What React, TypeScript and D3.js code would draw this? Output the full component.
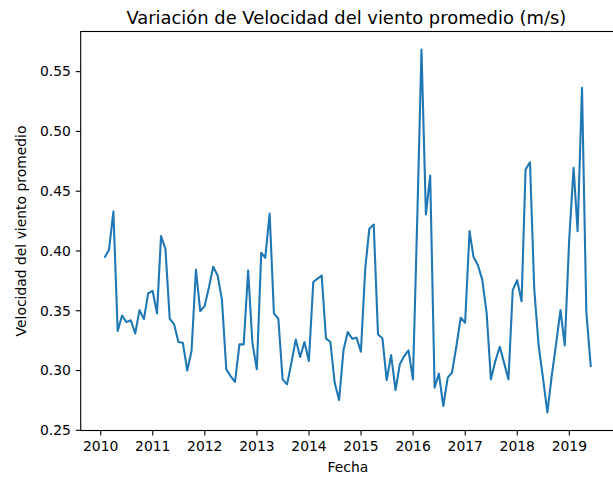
import React from "react";
import * as d3 from "d3";

// Monthly mean wind speed (m/s), month-end dates from Jan 2010 to May 2019
const startYear = 2010;
const startMonth = 0;
const windValues: number[] = [
  0.395, 0.401, 0.433, 0.333, 0.346, 0.3405, 0.342, 0.331, 0.3505, 0.343, 0.3645, 0.3667,
  0.3478, 0.4124, 0.4018, 0.3433, 0.3386, 0.3238, 0.3233, 0.3, 0.3163, 0.3845, 0.3497, 0.3539,
  0.37, 0.3868, 0.3795, 0.3595, 0.301, 0.2954, 0.2904, 0.3219, 0.3219, 0.3837, 0.3233, 0.301,
  0.3985, 0.3943, 0.4313, 0.3478, 0.3433, 0.2926, 0.2884, 0.3066, 0.326, 0.3113, 0.3238, 0.3079,
  0.3739, 0.3767, 0.3795, 0.3269, 0.3238, 0.2899, 0.2753, 0.3171, 0.3322, 0.3266, 0.3275, 0.3157,
  0.386, 0.4185, 0.4221, 0.3302, 0.327, 0.292, 0.3129, 0.2837, 0.3052, 0.3121, 0.3169, 0.2926,
  0.43, 0.5684, 0.4305, 0.4631, 0.2857, 0.2974, 0.2703, 0.294, 0.2982, 0.3205, 0.3442, 0.34,
  0.4166, 0.395, 0.388, 0.376, 0.3483, 0.2926, 0.3079, 0.3199, 0.3066, 0.2926, 0.3672, 0.3756,
  0.358, 0.4681, 0.4742, 0.368, 0.3205, 0.294, 0.265, 0.296, 0.322, 0.3505, 0.321, 0.4096,
  0.4695, 0.4166, 0.5364, 0.3497, 0.3037,
];
const yTickValues: number[] = [0.25, 0.3, 0.35, 0.4, 0.45, 0.5, 0.55];
const xTickYears: number[] = [2010, 2011, 2012, 2013, 2014, 2015, 2016, 2017, 2018, 2019];

const titleText = "Variación de Velocidad del viento promedio (m/s)";
const xLabelText = "Fecha";
const yLabelText = "Velocidad del viento promedio";

const W = 613;
const H = 477;
const plot = { left: 80.7, right: 615, top: 31.5, bottom: 430.5 };
const FONT = "DejaVu Sans, sans-serif";
const LINE_COLOR = "#1f77b4";

type Pt = { date: Date; value: number };

export default function App() {
  const data: Pt[] = windValues.map((v, i) => ({
    // last day of each month
    date: new Date(startYear, startMonth + i + 1, 0),
    value: v,
  }));

  const tExt = d3.extent(data, (d) => d.date.getTime()) as [number, number];
  const tPad = (tExt[1] - tExt[0]) * 0.05;
  const x = d3
    .scaleTime()
    .domain([new Date(tExt[0] - tPad), new Date(tExt[1] + tPad)])
    .range([plot.left, plot.right]);

  const vExt = d3.extent(data, (d) => d.value) as [number, number];
  const vPad = (vExt[1] - vExt[0]) * 0.05;
  const y = d3
    .scaleLinear()
    .domain([vExt[0] - vPad, vExt[1] + vPad])
    .range([plot.bottom, plot.top]);

  const line = d3
    .line<Pt>()
    .x((d) => x(d.date))
    .y((d) => y(d.value));

  const fmt = d3.format(".2f");
  const cx = (plot.left + plot.right) / 2;
  const cy = (plot.top + plot.bottom) / 2;

  return (
    <svg
      width={W}
      height={H}
      style={{ position: "absolute", left: 0, top: 0, background: "#fff" }}
      fontFamily={FONT}
    >
      <rect x={0} y={0} width={W} height={H} fill="#fff" />
      <text x={cx - 1.5} y={23.5} textAnchor="middle" fontSize={17.9} fill="#000">
        {titleText}
      </text>

      <path d={line(data) ?? ""} fill="none" stroke={LINE_COLOR} strokeWidth={2.08} strokeLinejoin="round" strokeLinecap="square" />

      {/* spines */}
      <rect
        x={plot.left}
        y={plot.top}
        width={plot.right - plot.left}
        height={plot.bottom - plot.top}
        fill="none"
        stroke="#000"
        strokeWidth={1.1}
      />

      {/* x ticks */}
      {xTickYears.map((yr) => {
        const px = x(new Date(yr, 0, 1));
        return (
          <g key={yr}>
            <line x1={px} x2={px} y1={plot.bottom} y2={plot.bottom + 4.9} stroke="#000" strokeWidth={1.1} />
            <text x={px} y={plot.bottom + 20.5} textAnchor="middle" fontSize={13.9} fill="#000">
              {yr}
            </text>
          </g>
        );
      })}

      {/* y ticks */}
      {yTickValues.map((v) => {
        const py = y(v);
        return (
          <g key={v}>
            <line x1={plot.left - 4.9} x2={plot.left} y1={py} y2={py} stroke="#000" strokeWidth={1.1} />
            <text x={plot.left - 9.8} y={py} dy="0.35em" textAnchor="end" fontSize={13.9} fill="#000">
              {fmt(v)}
            </text>
          </g>
        );
      })}

      <text x={cx} y={472} textAnchor="middle" fontSize={13.9} fill="#000">
        {xLabelText}
      </text>
      <text
        transform={`translate(26,${cy}) rotate(-90)`}
        textAnchor="middle"
        fontSize={13.9}
        fill="#000"
      >
        {yLabelText}
      </text>
    </svg>
  );
}
